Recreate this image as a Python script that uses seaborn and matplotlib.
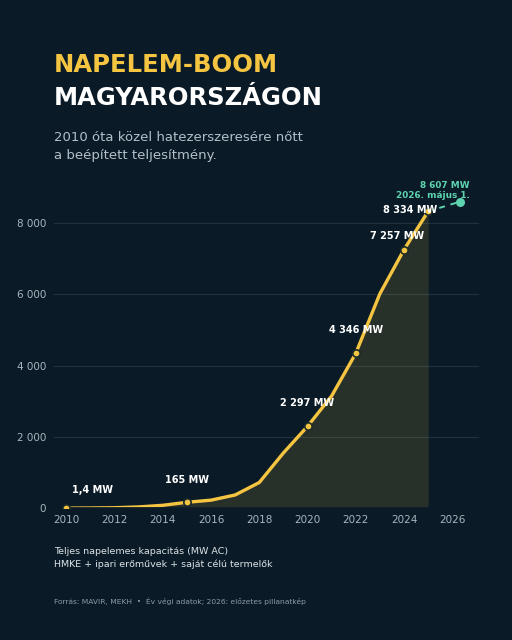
import matplotlib
matplotlib.use("Agg")
import matplotlib.pyplot as plt
import seaborn as sns
import pandas as pd

# adatok (MW AC, év végi)
years = [2010, 2011, 2012, 2013, 2014, 2015, 2016, 2017, 2018, 2019,
         2020, 2021, 2022, 2023, 2024, 2025]
capacity = [1.4, 5, 12, 35, 80, 165, 225, 370, 720, 1550,
            2297, 3150, 4346, 6020, 7257, 8334]
label_years = [2010, 2015, 2020, 2022, 2024, 2025]
label_texts = ["1,4 MW", "165 MW", "2 297 MW", "4 346 MW", "7 257 MW", "8 334 MW"]
snap_x = 2026.33
snap_y = 8607

# cimkek eltolasa pontban (x, y)
label_offsets = [(19, 13), (0, 16), (0, 17), (0, 17), (-5, 9.5), (-13, 1)]

BG = "#0a1b27"
YELLOW = "#f5c542"
TEAL = "#5ed3b0"

sns.set_theme(style="dark", rc={
    "figure.facecolor": BG,
    "axes.facecolor": BG,
    "axes.edgecolor": BG,
    "grid.color": "#1e3340",
    "text.color": "white",
    "xtick.color": "#a9b5be",
    "ytick.color": "#a9b5be",
})
plt.rcParams["font.family"] = ["DejaVu Sans"]

df = pd.DataFrame({"year": years, "mw": capacity})

fig = plt.figure(figsize=(5.12, 6.4), dpi=100)
ax = fig.add_axes([0.1035, 0.206, 0.834, 0.512])

ax.fill_between(df["year"], df["mw"], 0, color=YELLOW, alpha=0.13, linewidth=0)
sns.lineplot(data=df, x="year", y="mw", color=YELLOW, linewidth=2.4, ax=ax)

# elozetes 2026-os pont
ax.plot([years[-1], snap_x], [capacity[-1], snap_y], color=TEAL,
        linestyle=(0, (3, 3)), linewidth=1.4)
ax.scatter([snap_x], [snap_y], s=30, color=TEAL, zorder=5)

lab = df[df["year"].isin(label_years)]
ax.scatter(lab["year"], lab["mw"], s=28, color=YELLOW, edgecolor="#1b2a2a",
           linewidth=1.2, zorder=4)
for i, (x, y) in enumerate(zip(lab["year"], lab["mw"])):
    dx, dy = label_offsets[i]
    ax.annotate(label_texts[i], (x, y), xytext=(dx, dy), textcoords="offset points",
                ha="center", va="center", fontsize=7, fontweight="bold",
                color="white", zorder=6)

ax.annotate("8 607 MW\n2026. május 1.", (snap_x, snap_y), xytext=(7, 1),
            textcoords="offset points", ha="right", va="bottom", fontsize=6.4,
            fontweight="bold", color=TEAL, linespacing=1.15)

ax.set_xlim(2009.45, 2027.15)
ax.set_ylim(0, 9200)
ax.set_xticks(range(2010, 2027, 2))
ax.set_yticks([0, 2000, 4000, 6000, 8000])
ax.set_yticklabels(["0", "2 000", "4 000", "6 000", "8 000"])
ax.tick_params(axis="both", labelsize=7.5, length=0, pad=5)
ax.grid(axis="y", linewidth=0.8)
ax.grid(axis="x", visible=False)
ax.set_xlabel("")
ax.set_ylabel("")

fig.text(0.105, 0.887, "NAPELEM-BOOM", fontsize=17.5, fontweight="bold",
         color=YELLOW, va="baseline")
fig.text(0.105, 0.836, "MAGYARORSZÁGON", fontsize=17.5, fontweight="bold",
         color="white", va="baseline")
fig.text(0.105, 0.780, "2010 óta közel hatezerszeresére nőtt", fontsize=9.5,
         color="#b4c0c9", va="baseline")
fig.text(0.105, 0.752, "a beépített teljesítmény.", fontsize=9.5,
         color="#b4c0c9", va="baseline")

fig.text(0.105, 0.134, "Teljes napelemes kapacitás (MW AC)", fontsize=6.8,
         color="#dde3e8", va="baseline")
fig.text(0.105, 0.114, "HMKE + ipari erőművek + saját célú termelők", fontsize=6.8,
         color="#dde3e8", va="baseline")
fig.text(0.105, 0.057, "Forrás: MAVIR, MEKH  •  Év végi adatok; 2026: előzetes pillanatkép",
         fontsize=5.4, color="#8d9ba5", va="baseline")

fig.savefig("out.png", dpi=100, facecolor=BG)
